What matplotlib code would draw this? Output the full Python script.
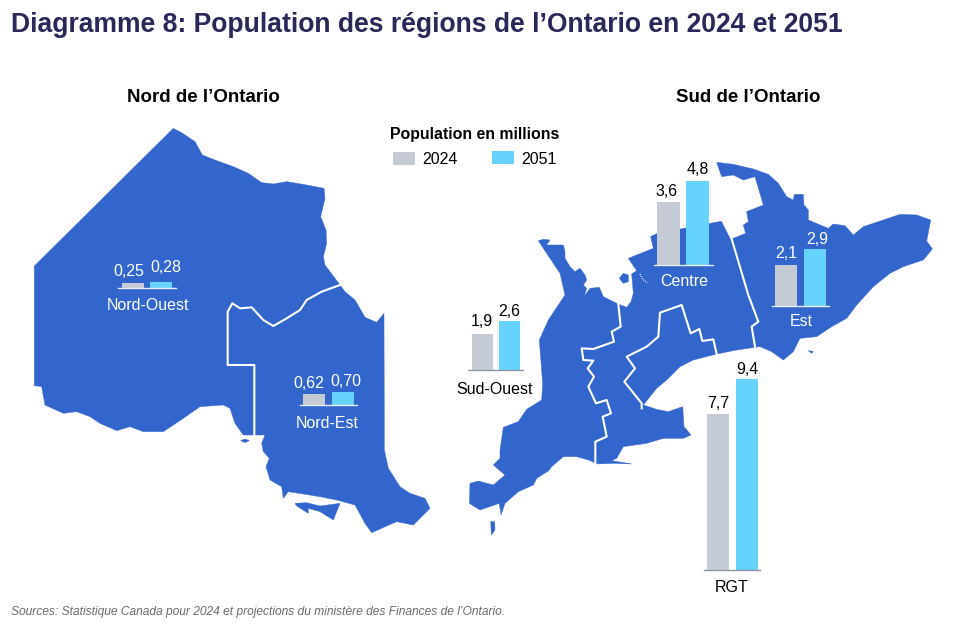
import matplotlib
matplotlib.use("Agg")
import matplotlib.pyplot as plt
from matplotlib.patches import Polygon, Rectangle

plt.rcParams['font.family'] = ['Liberation Sans', 'DejaVu Sans']

W, H = 960, 624
BLUE = '#3366CC'
GREY = '#C4CBD4'
CYAN = '#66D3FF'
NAVY = '#2A2859'

# values, millions
regions = ['Nord-Ouest', 'Nord-Est', 'Sud-Ouest', 'Centre', 'Est', 'RGT']
pop_2024 = [0.25, 0.62, 1.9, 3.6, 2.1, 7.7]
pop_2051 = [0.28, 0.70, 2.6, 4.8, 2.9, 9.4]
labels_2024 = ['0,25', '0,62', '1,9', '3,6', '2,1', '7,7']
labels_2051 = ['0,28', '0,70', '2,6', '4,8', '2,9', '9,4']

north_main = [(520,55),(545,68),(585,95),(607,135),(650,152),(700,170),(745,190),(785,218),(820,222),
              (860,215),(920,225),(972,235),(975,265),(962,320),(978,360),(980,400),(970,440),(975,465),
              (1020,525),(1035,545),(1065,570),(1095,622),(1130,637),(1152,610),(1153,1020),(1165,1075),
              (1200,1130),(1230,1150),(1275,1165),(1290,1195),(1270,1215),(1240,1245),(1190,1235),(1115,1268),
              (1095,1240),(1065,1185),(1010,1170),(960,1160),(865,1145),(850,1165),(845,1130),(810,1110),
              (798,1070),(808,1045),(790,1025),(785,1000),(795,975),(730,975),(705,940),(690,895),(670,885),
              (600,890),(550,925),(520,945),(490,965),(430,965),(390,950),(350,962),(300,940),(270,920),
              (230,905),(190,910),(135,885),(125,830),(103,827),(103,468)]
north_manitoulin = [(885,1180),(920,1178),(960,1188),(1020,1180),(1000,1230),(960,1205),(925,1195),(925,1210),(890,1188)]
north_small = [(722,992),(735,987),(748,992),(735,998)]
north_border = [(1020,525),(965,545),(920,570),(900,600),(860,625),(820,648),(790,630),(755,592),(720,595),
                (697,580),(683,605),(683,765),(763,765),(763,975)]

south_main = [(800,37),(850,43),(910,57),(955,73),(985,100),(1010,140),(1030,150),(1033,133),(1060,133),
              (1062,165),(1075,180),(1075,210),(1135,235),(1150,222),(1185,227),(1210,255),(1240,230),
              (1300,210),(1350,193),(1400,195),(1442,210),(1430,273),(1447,297),(1420,330),(1360,350),
              (1320,370),(1270,410),(1220,465),(1190,505),(1145,530),(1100,560),(1050,565),(1030,605),
              (1000,630),(965,605),(930,590),(915,592),(860,600),(800,612),(730,630),(690,650),(650,690),
              (620,715),(580,765),(620,778),(655,785),(698,770),(702,830),(723,855),(700,865),(640,865),
              (590,880),(520,890),(500,925),(485,932),(545,942),(490,940),(445,942),(415,930),(380,920),
              (340,920),(305,950),(295,963),(260,985),(250,1005),(205,1025),(165,1060),(153,1095),(148,1060),
              (90,1080),(58,1060),(60,1000),(85,993),(130,1005),(165,975),(130,945),(150,925),(150,900),
              (160,832),(205,815),(230,778),(275,750),(278,700),(268,570),(295,510),(345,435),(330,370),
              (300,325),(280,295),(265,272),(280,268),(300,270),(290,285),(340,285),(345,305),(345,325),
              (360,350),(375,365),(390,355),(405,375),(410,390),(400,405),(410,415),(403,438),(420,415),
              (448,412),(460,440),(500,460),(530,472),(543,455),(550,430),(548,405),(545,372),(560,362),
              (535,325),(610,295),(602,260),(622,250),(818,213),(845,267),(887,250),(880,225),(895,215),
              (890,185),(940,165),(915,80),(880,90),(850,75),(815,80)]
south_island_a = [(508,385),(520,370),(535,375),(535,395),(520,400)]
south_island_b = [(122,1115),(134,1115),(135,1140),(124,1155)]
south_island_c = [(1075,602),(1090,604),(1085,610)]
south_specks = [(570,372),(578,388),(592,398)]
south_border_a = [(818,213),(845,267),(895,435),(925,515),(905,530),(915,590)]
south_border_b = [(505,462),(512,530),(485,545),(492,575),(430,597),(395,595),(400,630),(430,632),(413,655),
                  (432,680),(415,710),(438,760),(470,750),(483,790),(458,800),(470,860),(436,875),(436,935)]
south_border_c = [(800,612),(790,568),(757,573),(748,537),(722,550),(695,465),(630,488),(625,560),(590,590),
                  (530,620),(555,655),(523,695),(575,760),(575,775)]

# x0, x1 of baseline, baseline y, left edges of the two bars, bar width, px per million
layout = [
    (118, 176, 287.5, 122, 150, 22, 20),
    (300, 357, 405, 303, 332, 22, 18),
    (468, 523, 370, 472, 499, 20.5, 19),
    (654, 713, 265, 657, 686, 23, 17.6),
    (772, 829, 306, 775, 804, 22, 19.6),
    (704, 760, 570, 707, 736, 21.5, 20.3),
]
# text centres: 2024 value, 2051 value, region name
text_pos = [
    ((129, 271), (166, 268), (148, 306)),
    ((309, 383), (346, 381), (327, 424)),
    ((482, 322), (509, 312), (495, 390)),
    ((667, 191), (698, 170), (684, 281)),
    ((786, 254), (817, 240), (801, 321)),
    ((718, 403), (747, 370), (732, 588)),
]
on_map = ['Nord-Ouest', 'Nord-Est', 'Est']


def from_north(pts):
    return [(x / 3, 110 + y / 3) for x, y in pts]


def from_south(pts):
    return [(450 + x / 3, 150 + y / 3) for x, y in pts]


fig = plt.figure(figsize=(W / 100, H / 100), dpi=100, facecolor='white')
ax = fig.add_axes([0, 0, 1, 1])
ax.set_xlim(0, W)
ax.set_ylim(H, 0)
ax.axis('off')

for pts in [from_north(north_main), from_north(north_manitoulin), from_north(north_small),
            from_south(south_main), from_south(south_island_a), from_south(south_island_b),
            from_south(south_island_c)]:
    ax.add_patch(Polygon(pts, closed=True, facecolor=BLUE, edgecolor=BLUE, linewidth=0.3))

for pts in [from_north(north_border), from_south(south_border_a), from_south(south_border_b),
            from_south(south_border_c)]:
    xs, ys = zip(*pts)
    ax.plot(xs, ys, color='white', linewidth=1.5, solid_joinstyle='round')

xs, ys = zip(*from_south(south_specks))
ax.plot(xs, ys, color='white', linewidth=0.8, linestyle=(0, (1, 1)))

# one small axes per region so each bar pair has its own scale
for i, region in enumerate(regions):
    x0, x1, base, left_a, left_b, bw, scale = layout[i]
    box_h = 210
    bar_ax = fig.add_axes([x0 / W, 1 - base / H, (x1 - x0) / W, box_h / H])
    bar_ax.patch.set_visible(False)
    bar_ax.set_xlim(x0, x1)
    bar_ax.set_ylim(0, box_h / scale)
    bar_ax.bar([left_a, left_b], [pop_2024[i], pop_2051[i]], width=bw, align='edge', color=[GREY, CYAN])
    bar_ax.set_xticks([])
    bar_ax.set_yticks([])
    for side in ['top', 'left', 'right']:
        bar_ax.spines[side].set_visible(False)
    line_col = '#E8ECF2' if region in on_map or region == 'Centre' else '#8C96A3'
    bar_ax.spines['bottom'].set_color(line_col)
    bar_ax.spines['bottom'].set_linewidth(1.0)

    col = 'white' if region in on_map else 'black'
    (xa, ya), (xb, yb), (xn, yn) = text_pos[i]
    name_col = 'white' if region in on_map or region == 'Centre' else 'black'
    ax.text(xa, ya, labels_2024[i], color=col, fontsize=11.5, ha='center', va='center')
    ax.text(xb, yb, labels_2051[i], color=col, fontsize=11.5, ha='center', va='center')
    ax.text(xn, yn, region, color=name_col, fontsize=11.5, ha='center', va='center')

ax.text(11, 25, 'Diagramme 8: Population des régions de l’Ontario en 2024 et 2051',
        fontsize=19.1, fontweight='bold', color=NAVY, ha='left', va='center')
ax.text(203, 97, 'Nord de l’Ontario', fontsize=13.5, fontweight='bold', ha='center', va='center')
ax.text(748, 97, 'Sud de l’Ontario', fontsize=13.5, fontweight='bold', ha='center', va='center')

ax.text(475, 134, 'Population en millions', fontsize=11.4, fontweight='bold', ha='center', va='center')
ax.add_patch(Rectangle((393, 152), 22, 13, facecolor=GREY, edgecolor='none'))
ax.add_patch(Rectangle((492, 151), 22, 13, facecolor=CYAN, edgecolor='none'))
ax.text(422, 160, '2024', fontsize=11.5, ha='left', va='center')
ax.text(521, 159, '2051', fontsize=11.5, ha='left', va='center')

ax.text(11, 612, 'Sources: Statistique Canada pour 2024 et projections du ministère des Finances de l’Ontario.',
        fontsize=8.65, style='italic', color='#6B6B6B', ha='left', va='center')

fig.savefig('out.png', dpi=100)
